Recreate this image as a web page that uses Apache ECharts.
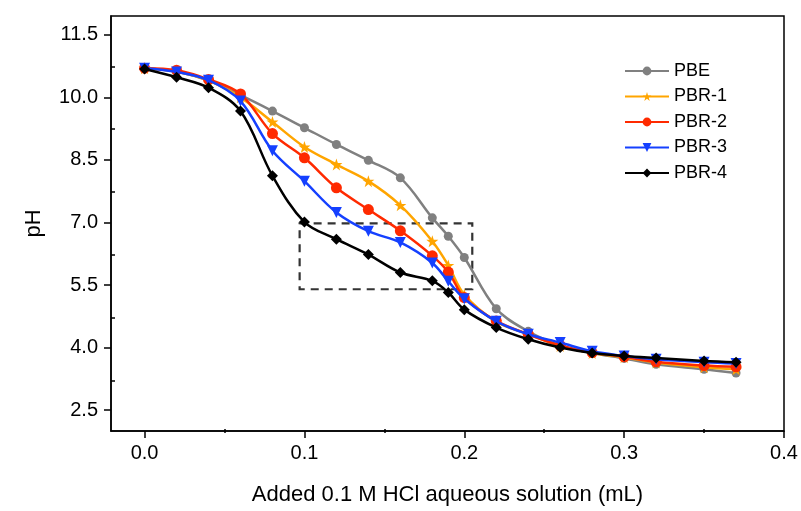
<!DOCTYPE html>
<html><head><meta charset="utf-8">
<script src="https://cdn.jsdelivr.net/npm/echarts@6/dist/echarts.min.js"></script>
<style>html,body{margin:0;padding:0;background:#fff}#c{width:801px;height:511px}</style>
</head><body><div id="c"></div>
<script>
const xValues = [0, 0.02, 0.04, 0.06, 0.08, 0.10, 0.12, 0.14, 0.16, 0.18, 0.19, 0.20, 0.22, 0.24, 0.26, 0.28, 0.30, 0.32, 0.35, 0.37];
const PBE   = [10.70, 10.62, 10.40, 10.05, 9.67, 9.27, 8.87, 8.49, 8.07, 7.11, 6.67, 6.16, 4.93, 4.39, 4.05, 3.87, 3.74, 3.60, 3.48, 3.39];
const PBR1  = [10.70, 10.62, 10.40, 10.00, 9.41, 8.81, 8.39, 7.99, 7.41, 6.55, 5.97, 5.27, 4.62, 4.32, 4.04, 3.87, 3.77, 3.64, 3.53, 3.48];
const PBR2  = [10.70, 10.65, 10.43, 10.08, 9.13, 8.55, 7.83, 7.31, 6.80, 6.20, 5.81, 5.20, 4.64, 4.32, 4.05, 3.88, 3.78, 3.66, 3.57, 3.54];
const PBR3  = [10.70, 10.61, 10.41, 9.91, 8.72, 7.99, 7.24, 6.79, 6.52, 6.03, 5.59, 5.17, 4.63, 4.32, 4.12, 3.91, 3.80, 3.72, 3.65, 3.62];
const PBR4  = [10.68, 10.48, 10.23, 9.67, 8.12, 7.01, 6.60, 6.23, 5.80, 5.60, 5.32, 4.91, 4.48, 4.20, 4.00, 3.87, 3.80, 3.75, 3.68, 3.65];
const seriesNames = ['PBE', 'PBR-1', 'PBR-2', 'PBR-3', 'PBR-4'];
const xTicks = [0, 0.1, 0.2, 0.3, 0.4];
const xMinorTicks = [0.05, 0.15, 0.25, 0.35];
const yTicks = [2.5, 4.0, 5.5, 7.0, 8.5, 10.0, 11.5];
const yMinorTicks = [3.25, 4.75, 6.25, 7.75, 9.25, 10.75];
const boxX = [0.097, 0.205];
const boxY = [5.43, 7.0];

const values = [PBE, PBR1, PBR2, PBR3, PBR4];
const colors = ['#808080', '#FFA500', '#FF2A00', '#1540FF', '#000000'];
const star = 'path://M50,0 L61.8,35.1 L98.9,35.1 L69,57.3 L80.3,92.7 L50,70.9 L19.7,92.7 L31,57.3 L1.1,35.1 L38.2,35.1 Z';
const symbols = ['circle', star, 'circle', 'triangle', 'diamond'];
const sizes = [9, 12, 11, 11, 11];
const rots = [0, 0, 0, 180, 0];
const font = 'Liberation Sans, Arial, sans-serif';
const X_MIN = -0.021, X_MAX = 0.4, Y_MIN = 2.0, Y_MAX = 11.95;
const gridPos = { left: 111, right: 17, top: 16, bottom: 78 };

const series = seriesNames.map((n, i) => ({
  name: n, type: 'line', smooth: 0.35, xAxisIndex: 0, yAxisIndex: 0,
  data: xValues.map((x, j) => [x, values[i][j]]),
  symbol: symbols[i], symbolSize: sizes[i], symbolRotate: rots[i],
  showAllSymbol: true,
  lineStyle: { color: colors[i], width: 2.5 },
  itemStyle: { color: colors[i] },
  z: 2 + i
}));
// dashed highlight box, on an overlaid grid whose axes carry the minor ticks
series.push({
  name: 'box', type: 'line', xAxisIndex: 1, yAxisIndex: 1,
  data: [[boxX[0], boxY[0]], [boxX[1], boxY[1]]],
  symbol: 'none', lineStyle: { opacity: 0, width: 0 }, silent: true,
  markArea: {
    silent: true,
    itemStyle: { color: 'rgba(0,0,0,0)', borderColor: '#333', borderWidth: 2.2, borderType: [8, 6] },
    data: [[{ coord: [boxX[0], boxY[1]] }, { coord: [boxX[1], boxY[0]] }]]
  }
});

const minorX = {
  type: 'value', gridIndex: 1, min: X_MIN, max: X_MAX, position: 'bottom',
  axisLine: { show: false, onZero: false },
  axisTick: { show: true, inside: true, customValues: xMinorTicks, length: 4, lineStyle: { color: '#000', width: 1.5 } },
  axisLabel: { show: false, customValues: xMinorTicks },
  splitLine: { show: false }
};
const minorY = {
  type: 'value', gridIndex: 1, min: Y_MIN, max: Y_MAX, position: 'left',
  axisLine: { show: false, onZero: false },
  axisTick: { show: true, inside: true, customValues: yMinorTicks, length: 4, lineStyle: { color: '#000', width: 1.5 } },
  axisLabel: { show: false, customValues: yMinorTicks },
  splitLine: { show: false }
};

const chart = echarts.init(document.getElementById('c'));
chart.setOption({
  animation: false,
  grid: [
    Object.assign({ show: true, borderColor: '#000', borderWidth: 1.5, backgroundColor: 'transparent' }, gridPos),
    Object.assign({ show: false }, gridPos)
  ],
  legend: {
    data: seriesNames, orient: 'vertical', left: 619, top: 57,
    itemWidth: 44, itemHeight: 11, itemGap: 7.5,
    textStyle: { fontFamily: font, fontSize: 18, color: '#000' }
  },
  xAxis: [{
    type: 'value', gridIndex: 0, min: X_MIN, max: X_MAX,
    name: 'Added 0.1 M HCl aqueous solution (mL)', nameLocation: 'middle', nameGap: 53,
    nameTextStyle: { fontFamily: font, fontSize: 22, color: '#000' },
    axisLine: { onZero: false, lineStyle: { color: '#000', width: 1.5 } },
    axisTick: { customValues: xTicks, length: 7, lineStyle: { color: '#000', width: 1.5 } },
    axisLabel: { customValues: xTicks, formatter: v => v.toFixed(1), fontFamily: font, fontSize: 20, color: '#000', margin: 12 },
    splitLine: { show: false }
  }, minorX],
  yAxis: [{
    type: 'value', gridIndex: 0, min: Y_MIN, max: Y_MAX,
    name: 'pH', nameLocation: 'middle', nameGap: 66, nameRotate: 90,
    nameTextStyle: { fontFamily: font, fontSize: 22, color: '#000' },
    axisLine: { onZero: false, lineStyle: { color: '#000', width: 1.5 } },
    axisTick: { customValues: yTicks, length: 7, lineStyle: { color: '#000', width: 1.5 } },
    axisLabel: { customValues: yTicks, formatter: v => v.toFixed(1), fontFamily: font, fontSize: 20, color: '#000', margin: 13 },
    splitLine: { show: false }
  }, minorY],
  series: series
});
</script></body></html>
